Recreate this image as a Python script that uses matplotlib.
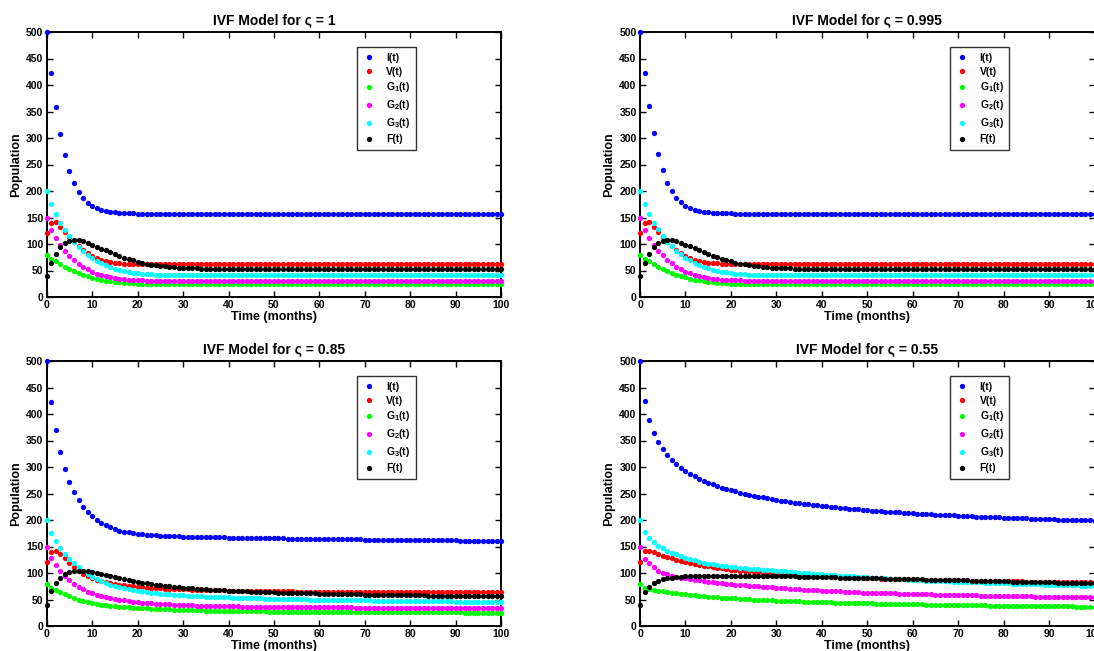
import numpy as np
import matplotlib
matplotlib.use('Agg')
import matplotlib.pyplot as plt

plt.rcParams['font.family'] = ['Liberation Sans', 'DejaVu Sans']
plt.rcParams['font.weight'] = 'bold'
plt.rcParams['mathtext.fontset'] = 'custom'
plt.rcParams['mathtext.rm'] = 'Liberation Sans:bold'
plt.rcParams['mathtext.bf'] = 'Liberation Sans:bold'
plt.rcParams['mathtext.default'] = 'bf'

# ---------------- data (t = 0..100 months) -------------
sigma_labels = ['1', '0.995', '0.85', '0.55']
series_labels = ['I(t)', 'V(t)', 'G$_1$(t)', 'G$_2$(t)', 'G$_3$(t)', 'F(t)']
series_colors = ['#0000ff', '#ff0000', '#00ff00', '#ff00ff', '#00ffff', '#000000']
x_ticks = [0, 10, 20, 30, 40, 50, 60, 70, 80, 90, 100]
y_ticks = [0, 50, 100, 150, 200, 250, 300, 350, 400, 450, 500]

# ---- sigma = 1 ----
I_s1 = [500, 423, 359, 308, 268, 237, 215, 198, 186, 177,
        171, 167, 164, 162, 160.5, 159.5, 158.8, 158.3, 158, 157.7,
        157.5, 157.4, 157.3, 157.2, 157.2, 157.1, 157.1, 157, 157, 157,
        157, 157, 157, 157, 157, 157, 157, 157, 157, 157,
        157, 157, 157, 157, 157, 157, 157, 157, 157, 157,
        157, 157, 157, 157, 157, 157, 157, 157, 157, 157,
        157, 157, 157, 157, 157, 157, 157, 157, 157, 157,
        157, 157, 157, 157, 157, 157, 157, 157, 157, 157,
        157, 157, 157, 157, 157, 157, 157, 157, 157, 157,
        157, 157, 157, 157, 157, 157, 157, 157, 157, 157,
        157]
V_s1 = [120, 140, 141, 133, 123, 113, 104, 96, 89, 83,
        77, 73, 70, 67.5, 65.8, 64.6, 63.8, 63.2, 62.8, 62.5,
        62.3, 62.2, 62.1, 62, 62, 62, 62, 62, 62, 62,
        62, 62, 62, 62, 62, 62, 62, 62, 62, 62,
        62, 62, 62, 62, 62, 62, 62, 62, 62, 62,
        62, 62, 62, 62, 62, 62, 62, 62, 62, 62,
        62, 62, 62, 62, 62, 62, 62, 62, 62, 62,
        62, 62, 62, 62, 62, 62, 62, 62, 62, 62,
        62, 62, 62, 62, 62, 62, 62, 62, 62, 62,
        62, 62, 62, 62, 62, 62, 62, 62, 62, 62,
        62]
G1_s1 = [80, 72, 67, 62, 57.5, 53, 49, 45.5, 42, 39,
         36.5, 34.3, 32.5, 31, 29.6, 28.5, 27.6, 26.8, 26.2, 25.7,
         25.3, 25, 24.8, 24.6, 24.5, 24.4, 24.3, 24.2, 24.1, 24.1,
         24, 24, 24, 24, 24, 24, 24, 24, 24, 24,
         24, 24, 24, 24, 24, 24, 24, 24, 24, 24,
         24, 24, 24, 24, 24, 24, 24, 24, 24, 24,
         24, 24, 24, 24, 24, 24, 24, 24, 24, 24,
         24, 24, 24, 24, 24, 24, 24, 24, 24, 24,
         24, 24, 24, 24, 24, 24, 24, 24, 24, 24,
         24, 24, 24, 24, 24, 24, 24, 24, 24, 24,
         24]
G2_s1 = [150, 127, 111, 98, 87, 78, 70, 63, 57, 52,
         47.5, 44, 41, 38.7, 36.8, 35.3, 34.1, 33.2, 32.5, 32,
         31.6, 31.3, 31.1, 31, 31, 31, 31, 31, 31, 31,
         31, 31, 31, 31, 31, 31, 31, 31, 31, 31,
         31, 31, 31, 31, 31, 31, 31, 31, 31, 31,
         31, 31, 31, 31, 31, 31, 31, 31, 31, 31,
         31, 31, 31, 31, 31, 31, 31, 31, 31, 31,
         31, 31, 31, 31, 31, 31, 31, 31, 31, 31,
         31, 31, 31, 31, 31, 31, 31, 31, 31, 31,
         31, 31, 31, 31, 31, 31, 31, 31, 31, 31,
         31]
G3_s1 = [200, 175, 156, 140, 127, 115, 104, 95, 87, 80,
         74, 68.5, 64, 60, 56.5, 53.5, 51, 49, 47.3, 46,
         44.9, 44, 43.3, 42.7, 42.2, 41.9, 41.6, 41.4, 41.2, 41.1,
         41, 41, 41, 41, 41, 41, 41, 41, 41, 41,
         41, 41, 41, 41, 41, 41, 41, 41, 41, 41,
         41, 41, 41, 41, 41, 41, 41, 41, 41, 41,
         41, 41, 41, 41, 41, 41, 41, 41, 41, 41,
         41, 41, 41, 41, 41, 41, 41, 41, 41, 41,
         41, 41, 41, 41, 41, 41, 41, 41, 41, 41,
         41, 41, 41, 41, 41, 41, 41, 41, 41, 41,
         41]
F_s1 = [40, 65, 82, 95, 102, 106, 107.5, 107, 105, 102,
        98.5, 95, 91.5, 88, 84.5, 81, 77.5, 74.5, 71.5, 69,
        66.5, 64.5, 62.7, 61.2, 59.8, 58.6, 57.6, 56.7, 56, 55.4,
        54.9, 54.5, 54.1, 53.8, 53.6, 53.4, 53.3, 53.2, 53.1, 53,
        53, 53, 53, 53, 53, 53, 53, 53, 53, 53,
        53, 53, 53, 53, 53, 53, 53, 53, 53, 53,
        53, 53, 53, 53, 53, 53, 53, 53, 53, 53,
        53, 53, 53, 53, 53, 53, 53, 53, 53, 53,
        53, 53, 53, 53, 53, 53, 53, 53, 53, 53,
        53, 53, 53, 53, 53, 53, 53, 53, 53, 53,
        53]

# ---- sigma = 0.995 ----
I_s2 = [500, 423, 360, 309, 269, 239, 216, 200, 187, 179,
        172, 168, 165, 162.5, 161, 160, 159, 158.5, 158.1, 157.8,
        157.6, 157.5, 157.4, 157.3, 157.2, 157.2, 157.1, 157.1, 157, 157,
        157, 157, 157, 157, 157, 157, 157, 157, 157, 157,
        157, 157, 157, 157, 157, 157, 157, 157, 157, 157,
        157, 157, 157, 157, 157, 157, 157, 157, 157, 157,
        157, 157, 157, 157, 157, 157, 157, 157, 157, 157,
        157, 157, 157, 157, 157, 157, 157, 157, 157, 157,
        157, 157, 157, 157, 157, 157, 157, 157, 157, 157,
        157, 157, 157, 157, 157, 157, 157, 157, 157, 157,
        157]
V_s2 = [120, 140, 141, 133, 123, 113.5, 104.5, 96.5, 89.5, 83.5,
        77.5, 73.5, 70.3, 67.8, 66, 64.8, 64, 63.4, 62.9, 62.6,
        62.4, 62.2, 62.1, 62, 62, 62, 62, 62, 62, 62,
        62, 62, 62, 62, 62, 62, 62, 62, 62, 62,
        62, 62, 62, 62, 62, 62, 62, 62, 62, 62,
        62, 62, 62, 62, 62, 62, 62, 62, 62, 62,
        62, 62, 62, 62, 62, 62, 62, 62, 62, 62,
        62, 62, 62, 62, 62, 62, 62, 62, 62, 62,
        62, 62, 62, 62, 62, 62, 62, 62, 62, 62,
        62, 62, 62, 62, 62, 62, 62, 62, 62, 62,
        62]
G1_s2 = [80, 72, 67, 62, 57.5, 53, 49.2, 45.7, 42.3, 39.3,
         36.8, 34.6, 32.8, 31.2, 29.8, 28.7, 27.7, 26.9, 26.3, 25.8,
         25.4, 25.1, 24.8, 24.6, 24.5, 24.4, 24.3, 24.2, 24.1, 24.1,
         24, 24, 24, 24, 24, 24, 24, 24, 24, 24,
         24, 24, 24, 24, 24, 24, 24, 24, 24, 24,
         24, 24, 24, 24, 24, 24, 24, 24, 24, 24,
         24, 24, 24, 24, 24, 24, 24, 24, 24, 24,
         24, 24, 24, 24, 24, 24, 24, 24, 24, 24,
         24, 24, 24, 24, 24, 24, 24, 24, 24, 24,
         24, 24, 24, 24, 24, 24, 24, 24, 24, 24,
         24]
G2_s2 = [150, 127, 111, 98.5, 87.5, 78.5, 70.5, 63.5, 57.5, 52.5,
         48, 44.5, 41.5, 39.1, 37.1, 35.6, 34.4, 33.4, 32.7, 32.1,
         31.7, 31.4, 31.2, 31.1, 31, 31, 31, 31, 31, 31,
         31, 31, 31, 31, 31, 31, 31, 31, 31, 31,
         31, 31, 31, 31, 31, 31, 31, 31, 31, 31,
         31, 31, 31, 31, 31, 31, 31, 31, 31, 31,
         31, 31, 31, 31, 31, 31, 31, 31, 31, 31,
         31, 31, 31, 31, 31, 31, 31, 31, 31, 31,
         31, 31, 31, 31, 31, 31, 31, 31, 31, 31,
         31, 31, 31, 31, 31, 31, 31, 31, 31, 31,
         31]
G3_s2 = [200, 175, 156, 140.5, 127.5, 115.5, 104.5, 95.5, 87.5, 80.5,
         74.5, 69, 64.5, 60.5, 57, 54, 51.5, 49.4, 47.7, 46.3,
         45.1, 44.2, 43.4, 42.8, 42.3, 41.9, 41.6, 41.4, 41.2, 41.1,
         41, 41, 41, 41, 41, 41, 41, 41, 41, 41,
         41, 41, 41, 41, 41, 41, 41, 41, 41, 41,
         41, 41, 41, 41, 41, 41, 41, 41, 41, 41,
         41, 41, 41, 41, 41, 41, 41, 41, 41, 41,
         41, 41, 41, 41, 41, 41, 41, 41, 41, 41,
         41, 41, 41, 41, 41, 41, 41, 41, 41, 41,
         41, 41, 41, 41, 41, 41, 41, 41, 41, 41,
         41]
F_s2 = [40, 65, 82, 94.5, 101.5, 105.5, 107, 107, 105, 102.5,
        99, 95.5, 92, 88.5, 85, 81.5, 78, 75, 72, 69.5,
        67, 65, 63.1, 61.5, 60.1, 58.9, 57.8, 56.9, 56.1, 55.5,
        55, 54.5, 54.2, 53.9, 53.6, 53.4, 53.3, 53.2, 53.1, 53,
        53, 53, 53, 53, 53, 53, 53, 53, 53, 53,
        53, 53, 53, 53, 53, 53, 53, 53, 53, 53,
        53, 53, 53, 53, 53, 53, 53, 53, 53, 53,
        53, 53, 53, 53, 53, 53, 53, 53, 53, 53,
        53, 53, 53, 53, 53, 53, 53, 53, 53, 53,
        53, 53, 53, 53, 53, 53, 53, 53, 53, 53,
        53]

# ---- sigma = 0.85 ----
I_s3 = [500, 423, 369, 328, 297, 272, 253, 238, 225, 215,
        207, 200, 195, 190, 186, 183, 180, 178, 176.5, 175,
        174, 173, 172.2, 171.5, 171, 170.5, 170, 169.7, 169.4, 169.1,
        168.8, 168.5, 168.3, 168.1, 167.9, 167.7, 167.5, 167.3, 167.1, 167,
        166.8, 166.6, 166.5, 166.3, 166.2, 166, 165.9, 165.7, 165.6, 165.5,
        165.3, 165.2, 165.1, 165, 164.9, 164.7, 164.6, 164.5, 164.4, 164.3,
        164.2, 164.1, 164, 163.9, 163.8, 163.7, 163.6, 163.5, 163.4, 163.3,
        163.2, 163.1, 163, 162.9, 162.8, 162.7, 162.6, 162.5, 162.4, 162.3,
        162.2, 162.1, 162, 161.9, 161.8, 161.8, 161.7, 161.6, 161.5, 161.5,
        161.4, 161.3, 161.3, 161.2, 161.1, 161.1, 161, 161, 160.9, 160.9,
        160.8]
V_s3 = [120, 140, 141, 136, 128, 119.5, 111.5, 104.5, 98.5, 94,
        90, 87, 84.5, 82.3, 80.5, 79, 77.7, 76.6, 75.6, 74.7,
        73.9, 73.2, 72.6, 72, 71.5, 71, 70.6, 70.2, 69.8, 69.5,
        69.2, 68.9, 68.6, 68.3, 68, 67.8, 67.6, 67.4, 67.2, 67,
        66.8, 66.6, 66.5, 66.3, 66.2, 66, 65.9, 65.8, 65.7, 65.6,
        65.5, 65.4, 65.3, 65.2, 65.1, 65, 65, 64.9, 64.8, 64.8,
        64.7, 64.7, 64.6, 64.6, 64.5, 64.5, 64.4, 64.4, 64.3, 64.3,
        64.3, 64.2, 64.2, 64.2, 64.1, 64.1, 64.1, 64, 64, 64,
        64, 63.9, 63.9, 63.9, 63.9, 63.8, 63.8, 63.8, 63.8, 63.8,
        63.7, 63.7, 63.7, 63.7, 63.7, 63.7, 63.6, 63.6, 63.6, 63.6,
        63.6]
G1_s3 = [80, 72, 67.5, 63.5, 59.5, 56, 53, 50, 47.5, 45.5,
         43.5, 42, 40.5, 39.3, 38.2, 37.3, 36.5, 35.8, 35.2, 34.6,
         34.1, 33.6, 33.2, 32.8, 32.4, 32, 31.6, 31.3, 31, 30.7,
         30.4, 30.1, 29.9, 29.6, 29.4, 29.2, 29, 28.8, 28.6, 28.5,
         28.3, 28.2, 28, 27.9, 27.8, 27.7, 27.6, 27.5, 27.4, 27.3,
         27.2, 27.1, 27, 27, 26.9, 26.8, 26.8, 26.7, 26.6, 26.6,
         26.5, 26.5, 26.4, 26.4, 26.3, 26.3, 26.2, 26.2, 26.1, 26.1,
         26, 26, 26, 25.9, 25.9, 25.9, 25.8, 25.8, 25.8, 25.7,
         25.7, 25.7, 25.7, 25.6, 25.6, 25.6, 25.6, 25.5, 25.5, 25.5,
         25.5, 25.5, 25.4, 25.4, 25.4, 25.4, 25.4, 25.3, 25.3, 25.3,
         25.3]
G2_s3 = [150, 128, 114.5, 104, 95, 87, 80, 74, 69, 65,
         61.5, 58.5, 56, 54, 52.3, 50.8, 49.4, 48.2, 47, 46,
         45, 44.2, 43.5, 42.8, 42.2, 41.7, 41.2, 40.7, 40.3, 39.9,
         39.5, 39.2, 38.9, 38.6, 38.3, 38.1, 37.9, 37.7, 37.5, 37.3,
         37.1, 37, 36.8, 36.7, 36.6, 36.5, 36.3, 36.2, 36.1, 36,
         35.9, 35.8, 35.8, 35.7, 35.6, 35.5, 35.5, 35.4, 35.4, 35.3,
         35.3, 35.2, 35.2, 35.1, 35.1, 35, 35, 35, 34.9, 34.9,
         34.9, 34.8, 34.8, 34.8, 34.7, 34.7, 34.7, 34.7, 34.6, 34.6,
         34.6, 34.6, 34.5, 34.5, 34.5, 34.5, 34.5, 34.4, 34.4, 34.4,
         34.4, 34.4, 34.4, 34.3, 34.3, 34.3, 34.3, 34.3, 34.3, 34.3,
         34.2]
G3_s3 = [200, 176, 160, 147, 136, 126, 118, 110.5, 104, 98,
         93, 88.5, 84.5, 81, 78, 75.5, 73.3, 71.3, 69.5, 68,
         66.5, 65.2, 64, 63, 62, 61.2, 60.4, 59.7, 59, 58.4,
         57.8, 57.3, 56.8, 56.3, 55.9, 55.5, 55.1, 54.7, 54.4, 54.1,
         53.8, 53.5, 53.2, 52.9, 52.7, 52.4, 52.2, 52, 51.8, 51.6,
         51.4, 51.2, 51, 50.8, 50.7, 50.5, 50.3, 50.2, 50, 49.9,
         49.7, 49.6, 49.4, 49.3, 49.1, 49, 48.9, 48.7, 48.6, 48.5,
         48.3, 48.2, 48.1, 48, 47.9, 47.7, 47.6, 47.5, 47.4, 47.3,
         47.2, 47.1, 47, 46.9, 46.8, 46.7, 46.6, 46.5, 46.4, 46.3,
         46.2, 46.1, 46, 45.9, 45.8, 45.7, 45.6, 45.5, 45.4, 45.3,
         45.2]
F_s3 = [40, 66, 80.5, 90, 97.5, 101.5, 103.5, 104.3, 104.2, 103.3,
        102, 100.4, 98.6, 96.6, 94.5, 92.4, 90.4, 88.5, 86.7, 85,
        83.4, 81.9, 80.5, 79.2, 78, 76.9, 75.9, 75, 74.1, 73.3,
        72.5, 71.8, 71.1, 70.5, 69.9, 69.3, 68.8, 68.3, 67.8, 67.3,
        66.9, 66.5, 66.1, 65.7, 65.4, 65, 64.7, 64.4, 64.1, 63.8,
        63.5, 63.2, 63, 62.7, 62.5, 62.2, 62, 61.8, 61.6, 61.4,
        61.2, 61, 60.8, 60.6, 60.4, 60.2, 60.1, 59.9, 59.7, 59.6,
        59.4, 59.3, 59.1, 59, 58.8, 58.7, 58.5, 58.4, 58.3, 58.1,
        58, 57.9, 57.7, 57.6, 57.5, 57.4, 57.2, 57.1, 57, 56.9,
        56.8, 56.7, 56.6, 56.5, 56.4, 56.2, 56.1, 56, 55.9, 55.8,
        55.7]

# ---- sigma = 0.55 ----
I_s4 = [500, 424, 389, 365, 347, 334, 323, 313, 305, 298,
        292, 287, 282.3, 278, 274, 270.3, 267, 263.8, 260.9, 258.3,
        256, 253.8, 251.7, 249.7, 247.8, 246, 244.3, 242.6, 241, 239.5,
        238, 236.7, 235.4, 234.1, 232.9, 231.7, 230.6, 229.5, 228.5, 227.5,
        226.5, 225.6, 224.7, 223.8, 223, 222.2, 221.4, 220.6, 219.9, 219.2,
        218.5, 217.8, 217.2, 216.6, 216, 215.4, 214.8, 214.3, 213.7, 213.2,
        212.7, 212.2, 211.7, 211.2, 210.8, 210.3, 209.9, 209.4, 209, 208.6,
        208.2, 207.8, 207.4, 207, 206.6, 206.3, 205.9, 205.5, 205.2, 204.8,
        204.5, 204.2, 203.8, 203.5, 203.2, 202.9, 202.6, 202.3, 202, 201.7,
        201.4, 201.1, 200.9, 200.6, 200.3, 200.1, 199.8, 199.6, 199.3, 199.1,
        198.9]
V_s4 = [120, 141, 141.5, 139, 136, 133, 130, 127.5, 125, 122.5,
        120.5, 118.5, 116.8, 115.2, 113.7, 112.3, 111, 109.8, 108.7, 107.6,
        106.6, 105.6, 104.7, 103.8, 103, 102.2, 101.5, 100.8, 100.1, 99.5,
        98.9, 98.3, 97.7, 97.2, 96.7, 96.2, 95.7, 95.2, 94.8, 94.4,
        94, 93.6, 93.2, 92.8, 92.4, 92.1, 91.8, 91.4, 91.1, 90.8,
        90.5, 90.2, 89.9, 89.6, 89.4, 89.1, 88.9, 88.6, 88.4, 88.2,
        88, 87.7, 87.5, 87.3, 87.1, 86.9, 86.7, 86.5, 86.4, 86.2,
        86, 85.8, 85.7, 85.5, 85.4, 85.2, 85.1, 84.9, 84.8, 84.6,
        84.5, 84.4, 84.2, 84.1, 84, 83.9, 83.7, 83.6, 83.5, 83.4,
        83.3, 83.2, 83.1, 83, 82.9, 82.8, 82.7, 82.6, 82.5, 82.4,
        82.3]
G1_s4 = [80, 72, 70, 68.3, 66.8, 65.4, 64.1, 62.9, 61.7, 60.6,
         59.6, 58.7, 57.8, 57, 56.2, 55.5, 54.8, 54.2, 53.6, 53,
         52.4, 51.9, 51.4, 50.9, 50.4, 50, 49.6, 49.2, 48.8, 48.4,
         48, 47.7, 47.3, 47, 46.7, 46.4, 46.1, 45.8, 45.5, 45.2,
         45, 44.7, 44.5, 44.2, 44, 43.8, 43.5, 43.3, 43.1, 42.9,
         42.7, 42.5, 42.3, 42.1, 41.9, 41.7, 41.6, 41.4, 41.2, 41.1,
         40.9, 40.7, 40.6, 40.4, 40.3, 40.1, 40, 39.9, 39.7, 39.6,
         39.4, 39.3, 39.2, 39.1, 38.9, 38.8, 38.7, 38.6, 38.5, 38.3,
         38.2, 38.1, 38, 37.9, 37.8, 37.7, 37.6, 37.5, 37.4, 37.3,
         37.2, 37.1, 37, 36.9, 36.8, 36.8, 36.7, 36.6, 36.5, 36.4,
         36.3]
G2_s4 = [150, 126, 118, 110.7, 104.4, 100.6, 97.6, 95.1, 93.2, 91.5,
         90, 88.6, 87.2, 86, 84.8, 83.7, 82.6, 81.6, 80.6, 79.6,
         78.7, 78, 77.3, 76.6, 75.9, 75.2, 74.6, 74, 73.4, 72.8,
         72.3, 71.7, 71.1, 70.5, 69.9, 69.4, 68.8, 68.2, 67.7, 67.2,
         66.7, 66.3, 65.9, 65.5, 65.1, 64.7, 64.3, 63.9, 63.6, 63.2,
         62.9, 62.6, 62.4, 62.1, 61.9, 61.6, 61.4, 61.1, 60.9, 60.6,
         60.4, 60.2, 60, 59.8, 59.6, 59.4, 59.2, 59, 58.8, 58.6,
         58.4, 58.2, 58, 57.8, 57.6, 57.5, 57.3, 57.1, 56.9, 56.7,
         56.6, 56.4, 56.3, 56.1, 56, 55.8, 55.7, 55.5, 55.4, 55.3,
         55.1, 55, 54.9, 54.8, 54.7, 54.6, 54.5, 54.4, 54.3, 54.2,
         54.1]
G3_s4 = [200, 176.5, 165.4, 158, 151.6, 146.6, 142.1, 138.3, 135, 131.9,
         128.9, 126.2, 123.7, 121.5, 119.5, 117.7, 116.1, 114.7, 113.4, 112.5,
         111.5, 110.6, 109.8, 109, 108.2, 107.5, 106.8, 106.1, 105.5, 104.9,
         104.3, 103.6, 102.9, 102.2, 101.5, 100.8, 100.1, 99.4, 98.8, 98.1,
         97.5, 96.9, 96.3, 95.7, 95.1, 94.5, 94, 93.4, 92.9, 92.3,
         91.8, 91.3, 90.8, 90.3, 89.8, 89.3, 88.8, 88.3, 87.8, 87.3,
         86.8, 86.5, 86.2, 85.8, 85.5, 85.2, 84.9, 84.6, 84.3, 83.9,
         83.6, 83.3, 83, 82.7, 82.4, 82.1, 81.7, 81.4, 81.1, 80.8,
         80.5, 80.2, 80, 79.7, 79.5, 79.2, 79, 78.7, 78.5, 78.2,
         78, 77.7, 77.5, 77.2, 77, 76.7, 76.5, 76.2, 76, 75.7,
         75.5]
F_s4 = [40, 65, 74, 80.5, 85, 88, 90, 91.5, 92.5, 93.2,
        93.7, 94.1, 94.4, 94.6, 94.8, 94.9, 95, 95, 95, 95,
        95, 94.9, 94.9, 94.8, 94.7, 94.6, 94.5, 94.4, 94.3, 94.1,
        94, 93.8, 93.7, 93.5, 93.4, 93.2, 93, 92.9, 92.7, 92.5,
        92.3, 92.1, 91.9, 91.7, 91.5, 91.3, 91.1, 90.9, 90.7, 90.5,
        90.3, 90.1, 89.9, 89.7, 89.5, 89.3, 89.1, 88.9, 88.7, 88.5,
        88.3, 88.1, 87.9, 87.7, 87.5, 87.3, 87.1, 86.9, 86.7, 86.5,
        86.3, 86.1, 85.9, 85.7, 85.5, 85.3, 85.1, 84.9, 84.7, 84.5,
        84.3, 84.1, 83.9, 83.7, 83.5, 83.3, 83.1, 82.9, 82.7, 82.5,
        82.3, 82.1, 81.9, 81.7, 81.5, 81.3, 81.1, 80.9, 80.7, 80.5,
        80.3]

panels = [
    (sigma_labels[0], [I_s1, V_s1, G1_s1, G2_s1, G3_s1, F_s1]),
    (sigma_labels[1], [I_s2, V_s2, G1_s2, G2_s2, G3_s2, F_s2]),
    (sigma_labels[2], [I_s3, V_s3, G1_s3, G2_s3, G3_s3, F_s3]),
    (sigma_labels[3], [I_s4, V_s4, G1_s4, G2_s4, G3_s4, F_s4]),
]

# ---------------- figure -------------
W, H = 1094, 651
fig = plt.figure(figsize=(W / 100, H / 100), dpi=100)

ax_w = 454.5 / W
ax_h = 265 / H
rects = [
    (46.7 / W, 1 - 297 / H, ax_w, ax_h),
    (640 / W, 1 - 297 / H, ax_w, ax_h),
    (46.7 / W, 1 - 626 / H, ax_w, ax_h),
    (640 / W, 1 - 626 / H, ax_w, ax_h),
]

for rect, (sig, series) in zip(rects, panels):
    ax = fig.add_axes(rect)
    for vals, lab, col in zip(series, series_labels, series_colors):
        t = np.arange(len(vals))
        ax.plot(t, vals, linestyle='none', marker='o', markersize=3.8,
                markeredgewidth=0, color=col, label=lab, clip_on=False, zorder=3)
    ax.set_xlim(0, 100)
    ax.set_ylim(0, 500)
    ax.set_xticks(x_ticks)
    ax.set_yticks(y_ticks)
    ax.tick_params(direction='in', top=True, right=True, length=4, width=1,
                   labelsize=7.5, pad=2.5)
    for lbl in ax.get_xticklabels() + ax.get_yticklabels():
        lbl.set_fontweight('bold')
    for sp in ax.spines.values():
        sp.set_linewidth(1.4)
    ax.set_title('IVF Model for \u03c2 = ' + sig, fontsize=10, fontweight='bold', pad=6)
    ax.set_xlabel('Time (months)', fontsize=9, fontweight='bold', labelpad=0.5)
    ax.set_ylabel('Population', fontsize=9, fontweight='bold', labelpad=3)
    leg = ax.legend(loc='upper left', bbox_to_anchor=(0.683, 0.942),
                    prop={'size': 7.5, 'weight': 'bold'}, frameon=True, fancybox=False,
                    edgecolor='black', handlelength=1.3, handletextpad=1.0,
                    borderpad=0.5, labelspacing=0.38, borderaxespad=0,
                    numpoints=1, markerscale=1.0)
    leg.get_frame().set_linewidth(1.0)
    leg.set_zorder(5)

fig.savefig('out.png', dpi=100)
